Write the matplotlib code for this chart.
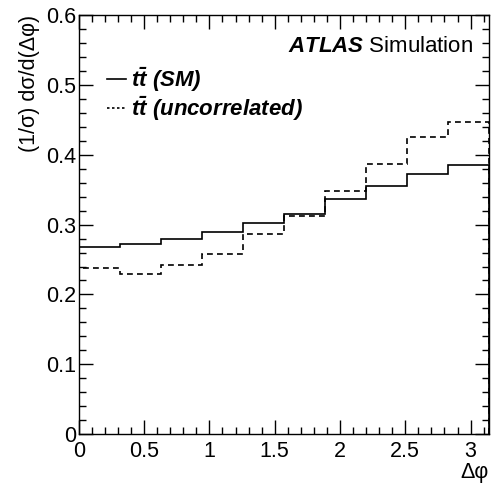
import matplotlib
matplotlib.use('Agg')
import matplotlib.pyplot as plt
import numpy as np
from matplotlib.ticker import MultipleLocator

plt.rcParams['font.family'] = ['Liberation Sans', 'DejaVu Sans']
plt.rcParams['mathtext.fontset'] = 'custom'
plt.rcParams['mathtext.rm'] = 'Liberation Sans'
plt.rcParams['mathtext.it'] = 'Liberation Sans:italic'
plt.rcParams['mathtext.bf'] = 'Liberation Sans:bold'
plt.rcParams['mathtext.bfit'] = 'Liberation Sans:italic:bold'

# 10 bins in delta phi from 0 to pi
edges = np.linspace(0, np.pi, 11)
sm = [0.268, 0.272, 0.279, 0.289, 0.302, 0.315, 0.337, 0.355, 0.372, 0.386]
uncorr = [0.238, 0.230, 0.242, 0.258, 0.286, 0.313, 0.348, 0.387, 0.425, 0.447]

fs = 15.5

fig = plt.figure(figsize=(4.93, 4.83), dpi=100)
ax = fig.add_axes([0.160, 0.101, 0.832, 0.868])

ax.stairs(sm, edges, color='black', lw=1.2, label=r'$\mathbfit{t\bar{t}}$ (SM)')
ax.stairs(uncorr, edges, color='black', lw=1.2, ls=(0, (3.5, 2.5)),
          label=r'$\mathbfit{t\bar{t}}$ (uncorrelated)')

ax.set_xlim(0, np.pi)
ax.set_ylim(0, 0.6)
ax.xaxis.set_minor_locator(MultipleLocator(0.1))
ax.yaxis.set_minor_locator(MultipleLocator(0.02))
ax.set_xticks([0, 0.5, 1, 1.5, 2, 2.5, 3])
ax.set_xticklabels(['0', '0.5', '1', '1.5', '2', '2.5', '3'])
ax.set_yticks([0, 0.1, 0.2, 0.3, 0.4, 0.5, 0.6])
ax.set_yticklabels(['0', '0.1', '0.2', '0.3', '0.4', '0.5', '0.6'])
ax.tick_params(which='both', direction='in', top=True, right=True, labelsize=fs, width=1)
ax.tick_params(which='major', length=10)
ax.tick_params(which='minor', length=5)
ax.tick_params(axis='x', pad=5)
ax.tick_params(axis='y', pad=2)
for s in ax.spines.values():
    s.set_linewidth(1)

ax.set_ylabel('(1/σ) dσ/d(Δφ)', fontsize=fs, loc='top', labelpad=4)
ax.set_xlabel('Δφ', fontsize=fs, loc='right', labelpad=0)

ax.text(0.962, 0.912, r'$\mathbfit{ATLAS}$ Simulation', transform=ax.transAxes,
        ha='right', va='baseline', fontsize=fs + 0.5)

leg = ax.legend(loc='upper left', bbox_to_anchor=(0.068, 0.88), frameon=False,
                fontsize=fs + 0.5, handlelength=0.85, handletextpad=0.25,
                labelspacing=0.0, borderpad=0, borderaxespad=0)
for t in leg.get_texts():
    t.set_fontweight('bold')
    t.set_fontstyle('italic')
leg.get_lines()[1].set_linestyle((0, (1.5, 1.5)))

fig.savefig('out.png', dpi=100)
